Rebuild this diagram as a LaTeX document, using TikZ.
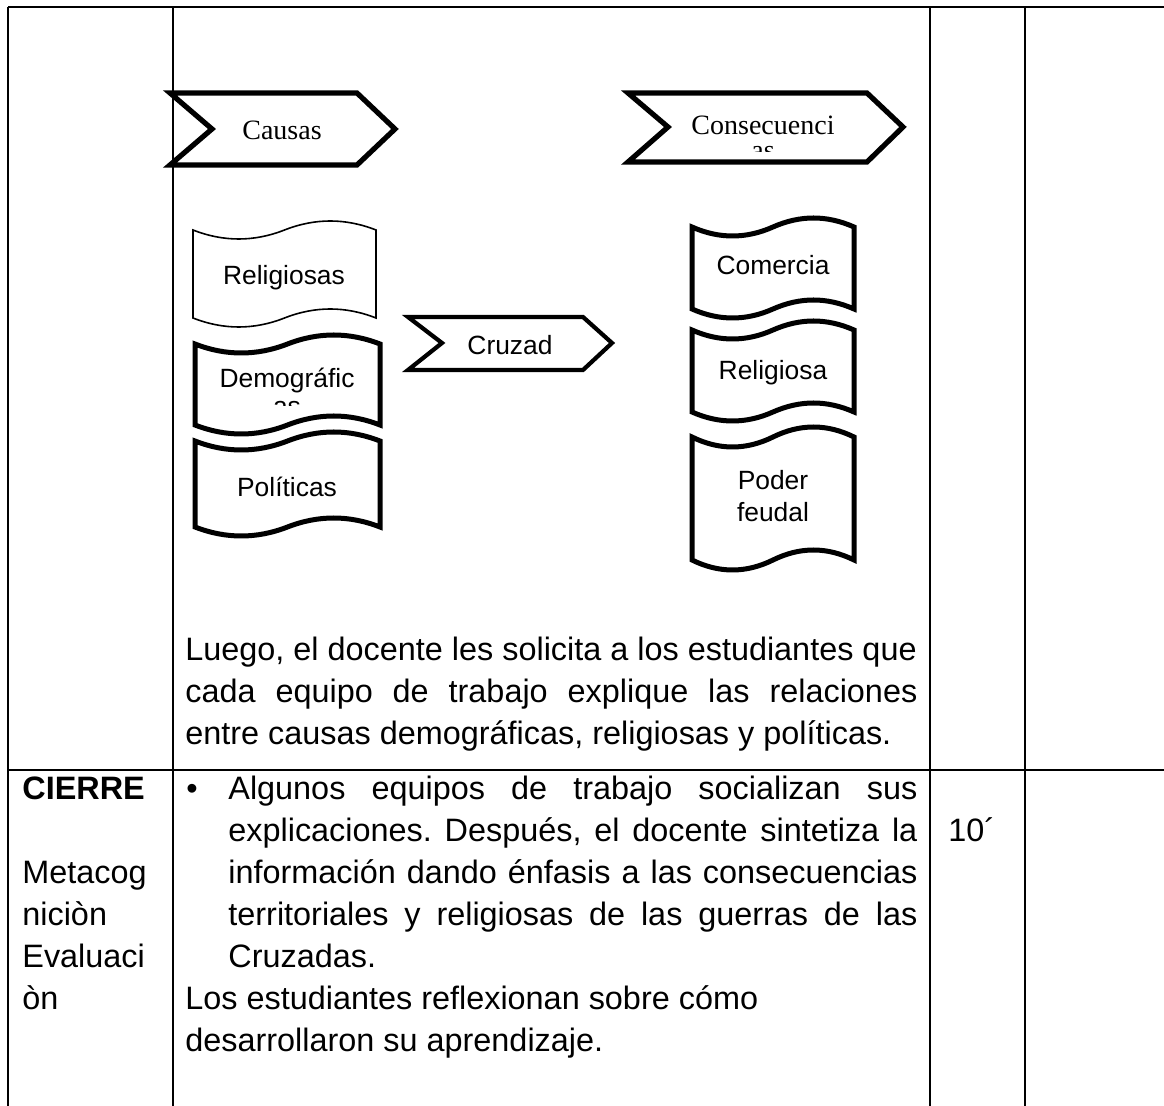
\documentclass[tikz,border=0pt]{standalone}
\usepackage{fontspec}
\setmainfont{Liberation Sans}
\newfontfamily\cambriaf{Liberation Serif}
\newcommand\tapedraw[6]{%
  \draw[#1] ({#2},{#4}) .. controls ({#2+(#3-#2)/6},{#4+4/3*#6}) and ({#2+(#3-#2)/3},{#4+4/3*#6}) .. ({#2+(#3-#2)/2},{#4})
   .. controls ({#2+2*(#3-#2)/3},{#4-4/3*#6}) and ({#2+5*(#3-#2)/6},{#4-4/3*#6}) .. ({#3},{#4})
   -- ({#3},{#5}) .. controls ({#2+5*(#3-#2)/6},{#5-4/3*#6}) and ({#2+2*(#3-#2)/3},{#5-4/3*#6}) .. ({#2+(#3-#2)/2},{#5})
   .. controls ({#2+(#3-#2)/3},{#5+4/3*#6}) and ({#2+(#3-#2)/6},{#5+4/3*#6}) .. ({#2},{#5}) -- cycle;}
\begin{document}
\frenchspacing
\begin{tikzpicture}[x=0.5pt,y=-0.5pt,
  tabline/.style={line width=1.2pt},
  chev/.style={line width=2.6pt,line join=miter},
  chevthin/.style={line width=2.1pt,line join=miter},
  tapethin/.style={line width=0.8pt},
  tapethick/.style={line width=2.5pt},
  maintext/.style={font=\fontsize{16.2}{21}\selectfont,inner sep=0pt,anchor=base west},
  shapetext/.style={font=\fontsize{13.2}{15}\selectfont,inner sep=0pt,anchor=base},
  sertext/.style={font=\cambriaf\fontsize{14}{16}\selectfont,inner sep=0pt,anchor=base}]
\useasboundingbox (0,0) rectangle (1164,1106);
% table
\draw[tabline] (8,7) -- (1164,7);
\draw[tabline] (8,7) -- (8,1106);
\draw[tabline] (173,7) -- (173,1106);
\draw[tabline] (930,7) -- (930,1106);
\draw[tabline] (1025,7) -- (1025,1106);
\draw[tabline] (8,770) -- (1164,770);
% chevrons
\draw[chev] (170,93) -- (357,93) -- (395,129) -- (357,165) -- (170,165) -- (212,129) -- cycle;
\draw[chev] (628,93) -- (867,93) -- (903,127) -- (867,162) -- (628,162) -- (668,127) -- cycle;
\draw[chevthin] (408,317) -- (583,317) -- (612,343) -- (583,370) -- (408,370) -- (442,343) -- cycle;
\node[sertext] (causas) at (282,140) {Causas};
\node[sertext] (consec) at (763,135) {Consecuenci};
\begin{scope}
  \clip (640,140) rectangle (880,152);
  \node[sertext] (consas) at (763,160) {as};
\end{scope}
\node[shapetext] (cruzad) at (510,355) {Cruzad};
% tapes
\tapedraw{tapethin}{193}{376}{230}{318}{9}
\tapedraw{tapethick}{195}{380}{344}{425}{9}
\tapedraw{tapethick}{195}{380}{441}{527}{9}
\tapedraw{tapethick}{692}{854}{227}{309}{9}
\tapedraw{tapethick}{692}{854}{330}{412}{9}
\tapedraw{tapethick}{692}{854}{437}{560}{10}
\node[shapetext] (relig) at (284,285) {Religiosas};
\node[shapetext] (demog) at (287,388) {Demográfic};
\begin{scope}
  \clip (200,395) rectangle (375,405.5);
  \node[shapetext] (demas) at (287,416) {as};
\end{scope}
\node[shapetext] (polit) at (287,497) {Políticas};
\node[shapetext] (comer) at (773,275) {Comercia};
\node[shapetext] (religa) at (773,380) {Religiosa};
\node[shapetext] (poder) at (773,490) {Poder};
\node[shapetext] (feudal) at (773,522) {feudal};
% paragraph
\node[maintext] (p1a) at (185,661) {Luego, el docente les solicita a los estudiantes que};
\node[maintext] (p1b) at (185,703) {\makebox[366pt][s]{cada equipo de trabajo explique las relaciones}};
\node[maintext] (p1c) at (185,745) {entre causas demográficas, religiosas y políticas.};
% cierre row
\node[maintext,font=\fontsize{16.2}{21}\selectfont\bfseries] (cierre) at (22,800) {CIERRE};
\node[maintext] (l1) at (22,884) {Metacog};
\node[maintext] (l2) at (22,926) {niciòn};
\node[maintext] (l3) at (22,968) {Evaluaci};
\node[maintext] (l4) at (22,1010) {òn};
\node[maintext] (bul) at (186,800) {•};
\node[maintext] (b1) at (228,800) {\makebox[344.5pt][s]{Algunos equipos de trabajo socializan sus}};
\node[maintext] (b2) at (228,842) {\makebox[344.5pt][s]{explicaciones. Después, el docente sintetiza la}};
\node[maintext] (b3) at (228,884) {\makebox[344.5pt][s]{información dando énfasis a las consecuencias}};
\node[maintext] (b4) at (228,926) {\makebox[344.5pt][s]{territoriales y religiosas de las guerras de las}};
\node[maintext] (b5) at (228,968) {Cruzadas.};
\node[maintext] (b6) at (185,1010) {Los estudiantes reflexionan sobre cómo};
\node[maintext] (b7) at (185,1052) {desarrollaron su aprendizaje.};
\node[maintext] (time) at (948,842) {10´};
\end{tikzpicture}
\end{document}
